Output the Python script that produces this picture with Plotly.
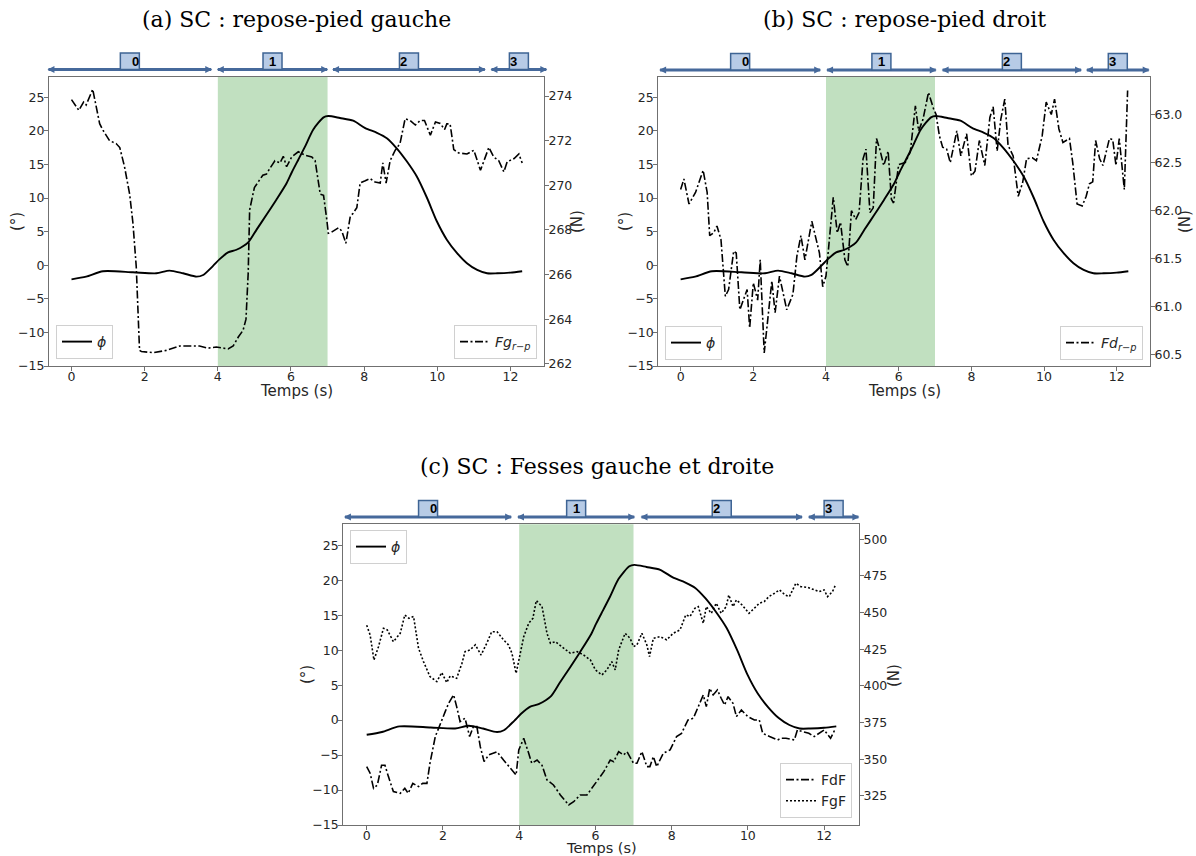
import plotly.graph_objects as go

# ---------------- data ----------------
phi_t = [0, 0.4, 0.86, 1.68, 2.32, 2.68, 3.05, 3.42, 3.6, 3.87, 4.05, 4.28, 4.51, 4.83, 5.06,
         5.33, 5.6, 5.88, 6.02, 6.2, 6.38, 6.61, 6.89, 7.02, 7.34, 7.7, 8.03, 8.35, 8.62, 8.89,
         9.16, 9.44, 9.72, 9.99, 10.26, 10.54, 10.81, 11.09, 11.36, 11.64, 12.0, 12.32]
phi = [-2.1, -1.7, -0.9, -1.05, -1.2, -0.8, -1.2, -1.7, -1.45, -0.1, 0.9, 1.9, 2.3, 3.4, 5.3,
       7.5, 9.75, 12.2, 13.8, 15.7, 17.6, 20.2, 22.0, 22.2, 21.9, 21.5, 20.4, 19.7, 18.9, 17.4,
       15.5, 13.2, 10.0, 6.5, 3.8, 1.8, 0.3, -0.7, -1.2, -1.2, -1.1, -0.9]

fg_t = [0, 0.2, 0.33, 0.4, 0.58, 0.77, 0.86, 1.04, 1.22, 1.32, 1.45, 1.59, 1.68, 1.77, 1.86,
        1.91, 2.23, 2.59, 2.96, 3.5, 3.73, 3.96, 4.28, 4.42, 4.56, 4.69, 4.77, 4.83, 4.87, 5.0,
        5.23, 5.33, 5.42, 5.56, 5.7, 5.79, 5.88, 6.02, 6.2, 6.38, 6.57, 6.66, 6.8, 6.89, 6.98,
        7.02, 7.11, 7.3, 7.39, 7.5, 7.62, 7.7, 7.8, 7.89, 8.03, 8.16, 8.3, 8.44, 8.51, 8.6,
        8.71, 8.85, 8.98, 9.12, 9.26, 9.4, 9.53, 9.65, 9.81, 9.95, 10.08, 10.2, 10.26, 10.35,
        10.45, 10.58, 10.81, 11.0, 11.18, 11.41, 11.54, 11.68, 11.82, 11.91, 12.1, 12.23, 12.32]
fg_rp = [273.84, 273.36, 273.73, 273.6, 274.3, 272.76, 272.47, 272.0, 271.87, 271.69,
         270.83, 269.6, 268.3, 266.35, 262.6, 262.55, 262.5, 262.6, 262.8, 262.8,
         262.7, 262.75, 262.67, 262.8, 263.2, 263.5, 264.0, 266.05, 268.9, 269.9,
         270.45, 270.5, 270.75, 271.1, 271.0, 271.3, 270.83, 271.27, 271.5, 271.35,
         271.27, 271.1, 269.6, 269.55, 268.45, 267.85, 267.9, 268.1, 267.95, 267.4,
         268.6, 268.75, 269.0, 270.1, 270.2, 270.3, 270.15, 270.1, 271.0, 270.1,
         271.1, 271.57, 271.87, 272.98, 272.9, 272.7, 272.9, 272.9, 272.24, 272.84,
         272.77, 272.5, 272.75, 272.75, 271.6, 271.45, 271.4, 271.57, 270.67, 271.7,
         271.27, 271.1, 270.6, 271.05, 271.2, 271.4, 271.0]

fd_t = [0, 0.09, 0.23, 0.41, 0.62, 0.73, 0.8, 0.91, 1.0, 1.11,
        1.23, 1.32, 1.46, 1.53, 1.63, 1.83, 1.9, 2.0, 2.12, 2.19,
        2.3, 2.51, 2.6, 2.72, 2.92, 3.09, 3.2, 3.31, 3.42, 3.61,
        3.82, 3.91, 4.0, 4.11, 4.2, 4.31, 4.4, 4.52, 4.6, 4.7,
        4.82, 4.91, 5.02, 5.1, 5.21, 5.3, 5.39, 5.48, 5.59, 5.71,
        5.8, 5.86, 6.0, 6.18, 6.32, 6.46, 6.55, 6.67, 6.82, 6.96,
        7.03, 7.12, 7.21, 7.32, 7.42, 7.6, 7.71, 7.87, 8.0, 8.1,
        8.22, 8.37, 8.44, 8.51, 8.6, 8.71, 8.81, 8.92, 9.01, 9.15,
        9.29, 9.41, 9.52, 9.68, 9.79, 9.95, 10.06, 10.2, 10.29, 10.41,
        10.52, 10.7, 10.79, 10.91, 11.05, 11.16, 11.25, 11.34, 11.42, 11.53,
        11.62, 11.8, 11.89, 11.98, 12.07, 12.15, 12.21, 12.3]
fd_rp = [62.22, 62.33, 62.07, 62.19, 62.42, 62.19, 61.74, 61.77, 61.84, 61.70,
         61.11, 61.18, 61.58, 61.56, 60.97, 61.18, 60.78, 61.25, 61.07, 61.49,
         60.52, 61.27, 60.94, 61.32, 60.97, 61.13, 61.53, 61.74, 61.49, 61.89,
         61.56, 61.21, 61.32, 61.77, 62.14, 61.77, 61.88, 61.49, 61.42, 62.0,
         61.91, 61.98, 62.54, 62.64, 61.98, 62.03, 62.75, 62.64, 62.47, 62.62,
         62.12, 62.08, 62.48, 62.5, 62.61, 63.09, 62.83, 62.95, 63.23, 63.06,
         63.0, 62.78, 62.66, 62.64, 62.5, 62.83, 62.57, 62.8, 62.36, 62.41,
         62.73, 62.47, 62.7, 62.97, 63.08, 62.62, 62.95, 63.16, 62.68, 62.57,
         62.15, 62.29, 62.54, 62.55, 62.52, 62.78, 63.13, 63.0, 63.16, 62.85,
         62.71, 62.75, 62.5, 62.07, 62.05, 62.15, 62.28, 62.3, 62.73, 62.54,
         62.47, 62.75, 62.74, 62.47, 62.75, 62.4, 62.22, 63.25]

fgf_t = [0, 0.09, 0.19, 0.31, 0.44, 0.54, 0.7, 0.88, 1.0, 1.11, 1.23, 1.36, 1.49, 1.66, 1.84,
         1.97, 2.1, 2.19, 2.36, 2.5, 2.58, 2.71, 2.85, 3.0, 3.15, 3.28, 3.42, 3.59, 3.72, 3.81,
         3.92, 4.03, 4.12, 4.25, 4.36, 4.45, 4.6, 4.73, 4.82, 4.95, 5.12, 5.34, 5.52, 5.69, 5.87,
         6.0, 6.17, 6.3, 6.43, 6.52, 6.61, 6.78, 6.91, 7.0, 7.09, 7.22, 7.35, 7.42, 7.52, 7.7,
         7.87, 8.04, 8.22, 8.37, 8.48, 8.61, 8.7, 8.83, 8.91, 9.04, 9.17, 9.3, 9.43, 9.5, 9.61,
         9.7, 9.85, 10.03, 10.17, 10.3, 10.43, 10.55, 10.7, 10.83, 10.98, 11.09, 11.26, 11.39,
         11.57, 11.7, 11.87, 12.0, 12.09, 12.22, 12.3]
fgf = [441.4, 434.8, 417.7, 426.8, 439.3, 438.2, 430.2, 435.9, 448.4, 446.1, 447.3, 425.7, 416.6,
       406.4, 402.95, 409.1, 402.3, 406.8, 405.2, 415.5, 423.4, 424.5, 428.0, 421.1, 429.1, 437.0,
       437.0, 431.4, 428.0, 422.3, 408.6, 422.3, 433.6, 442.7, 446.1, 458.2, 454.1, 435.9, 429.1,
       430.2, 426.8, 422.3, 423.4, 421.1, 417.7, 410.9, 407.5, 410.9, 416.6, 410.9, 424.5, 435.9,
       432.5, 426.8, 428.0, 435.9, 428.0, 420.0, 432.5, 433.6, 431.4, 435.9, 438.2, 448.4, 447.3,
       452.95, 454.1, 442.7, 454.1, 449.5, 456.4, 449.5, 454.1, 462.0, 454.1, 458.6, 455.2, 449.5,
       452.95, 456.4, 457.5, 460.9, 463.2, 465.5, 462.0, 460.9, 470.0, 467.7, 467.2, 465.9, 464.3,
       465.5, 460.9, 464.3, 468.9]

fdf_t = [0, 0.09, 0.18, 0.28, 0.39, 0.48, 0.57, 0.7, 0.88, 1.0, 1.09, 1.21, 1.36, 1.47, 1.58,
         1.66, 1.8, 1.93, 2.06, 2.15, 2.28, 2.36, 2.45, 2.58, 2.7, 2.8, 2.89, 2.98, 3.08, 3.2,
         3.42, 3.59, 3.77, 3.92, 3.99, 4.12, 4.25, 4.33, 4.47, 4.6, 4.73, 4.9, 5.08, 5.3, 5.43,
         5.6, 5.78, 6.0, 6.22, 6.39, 6.48, 6.61, 6.74, 6.83, 7.0, 7.09, 7.22, 7.35, 7.43, 7.52,
         7.61, 7.78, 7.96, 8.13, 8.26, 8.43, 8.57, 8.7, 8.83, 8.91, 9.0, 9.09, 9.2, 9.3, 9.39,
         9.48, 9.61, 9.7, 9.83, 10.0, 10.17, 10.3, 10.39, 10.57, 10.78, 10.87, 11.0, 11.22, 11.3,
         11.43, 11.6, 11.74, 11.87, 12.0, 12.17, 12.3]
fdf = [345.0, 340.5, 330.2, 332.5, 345.9, 345.9, 338.2, 328.0, 326.8, 330.2, 326.8, 333.6, 331.4,
       333.6, 333.6, 347.3, 365.5, 373.4, 382.5, 388.2, 393.9, 385.9, 375.7, 378.0, 365.5, 372.3,
       372.3, 358.6, 348.4, 352.95, 355.2, 349.5, 343.9, 339.3, 356.4, 364.3, 354.1, 347.3, 349.5,
       345.9, 335.9, 332.5, 325.7, 318.9, 321.1, 325.7, 325.7, 333.6, 341.6, 349.5, 348.4, 355.2,
       352.95, 355.2, 347.3, 347.3, 355.2, 345.0, 345.0, 351.8, 345.0, 354.1, 356.4, 365.5, 367.7,
       376.8, 378.0, 385.9, 393.9, 385.9, 398.4, 393.9, 397.3, 391.6, 387.0, 392.7, 388.2, 379.1,
       383.6, 379.1, 376.8, 376.8, 367.7, 365.5, 363.2, 364.3, 364.3, 363.2, 370.0, 368.9, 367.7,
       365.5, 367.7, 370.0, 364.3, 371.1]

x_ticks = [0, 2, 4, 6, 8, 10, 12]
phase_labels = ["0", "1", "2", "3"]
phase1_span = [4, 7]
phases_a = [(-0.63, 3.82), (4.0, 6.99), (7.15, 11.3), (11.48, 12.98)]
phases_b = [(-0.565, 3.84), (4.03, 7.02), (7.21, 11.02), (11.18, 12.88)]
phases_c = [(-0.57, 3.79), (3.97, 7.02), (7.21, 11.42), (11.6, 12.9)]

# ---------------- style ----------------
W, H = 1196, 856
X_RANGE = [-0.615, 12.915]
Y_LEFT = [-15, 28]
FONT = "DejaVu Sans"
TXT = "#262626"
SPINE = "#707070"
GREEN = "#c1e0c0"
ARROW = "#46699b"
BOX_FILL = "#b7cbe6"
BOX_LINE = "#3e6494"
DASHDOT = "8px,2.5px,2px,2.5px"
DOT = "2px,2px"

fig = go.Figure()

def add_line(x, y, xa, ya, name, dash, legend, width=1.6, shape="linear"):
    fig.add_trace(go.Scatter(x=x, y=y, xaxis=xa, yaxis=ya, mode="lines", name=name,
                             line=dict(color="black", width=width, dash=dash, shape=shape,
                                       smoothing=0.7 if shape == "spline" else None),
                             legend=legend, showlegend=True))

PHI = "<i>ϕ</i>"
# (a)
add_line(phi_t, phi, "x", "y", PHI, "solid", "legend", width=1.9, shape="spline")
add_line(fg_t, fg_rp, "x", "y2", "<i>Fg</i><sub><i>r−p</i></sub>", DASHDOT, "legend2")
# (b)
add_line(phi_t, phi, "x2", "y3", PHI, "solid", "legend3", width=1.9, shape="spline")
add_line(fd_t, fd_rp, "x2", "y4", "<i>Fd</i><sub><i>r−p</i></sub>", DASHDOT, "legend4")
# (c)
add_line(phi_t, phi, "x3", "y5", PHI, "solid", "legend5", width=1.9, shape="spline")
add_line(fdf_t, fdf, "x3", "y6", "FdF", DASHDOT, "legend6")
add_line(fgf_t, fgf, "x3", "y6", "FgF", DOT, "legend6")

axis_common = dict(showline=True, linecolor=SPINE, linewidth=1, ticks="outside", ticklen=4,
                   tickcolor=SPINE, showgrid=False, zeroline=False, automargin=False,
                   tickfont=dict(family=FONT, size=12.5, color=TXT))
title_font = dict(family=FONT, size=15, color=TXT)

def xaxis(domain, anchor):
    return dict(axis_common, domain=domain, anchor=anchor, range=X_RANGE, tickvals=x_ticks,
                mirror=True, ticklabelstandoff=-5)

def yleft(domain, anchor):
    return dict(axis_common, domain=domain, anchor=anchor, range=Y_LEFT, dtick=5,
                ticklabelstandoff=-3)

def yright(over, anchor, rng, dtick, fmt=None):
    d = dict(axis_common, overlaying=over, anchor=anchor, side="right", range=rng, dtick=dtick,
             ticklabelstandoff=-3)
    if fmt:
        d["tickformat"] = fmt
    return d

dom_top = [0.5724, 0.91]
dom_bot = [0.0362, 0.3875]
xa_dom = [0.04097, 0.4548]
xb_dom = [0.5504, 0.9615]
xc_dom = [0.2870, 0.7182]

leg_common = dict(bgcolor="rgba(255,255,255,0.85)", bordercolor="#d0d0d0", borderwidth=1,
                  font=dict(family=FONT, size=14, color=TXT), itemwidth=30,
                  tracegroupgap=0)

fig.update_layout(
    template="none",
    width=W, height=H, margin=dict(l=0, r=0, t=0, b=0, autoexpand=False),
    paper_bgcolor="white", plot_bgcolor="white",
    xaxis=xaxis(xa_dom, "y"), yaxis=yleft(dom_top, "x"),
    yaxis2=yright("y", "x", [261.9, 274.85], 2),
    xaxis2=xaxis(xb_dom, "y3"), yaxis3=yleft(dom_top, "x2"),
    yaxis4=yright("y3", "x2", [60.385, 63.39], 0.5, ".1f"),
    xaxis3=xaxis(xc_dom, "y5"), yaxis5=yleft(dom_bot, "x3"),
    yaxis6=yright("y5", "x3", [305.2, 510.2], 25),
    legend=dict(leg_common, x=56 / W, y=1 - 359 / H, xanchor="left", yanchor="bottom"),
    legend2=dict(leg_common, x=537 / W, y=1 - 359 / H, xanchor="right", yanchor="bottom"),
    legend3=dict(leg_common, x=665 / W, y=1 - 360 / H, xanchor="left", yanchor="bottom"),
    legend4=dict(leg_common, x=1143 / W, y=1 - 360 / H, xanchor="right", yanchor="bottom"),
    legend5=dict(leg_common, x=350 / W, y=1 - 530 / H, xanchor="left", yanchor="top"),
    legend6=dict(leg_common, x=852 / W, y=1 - 818 / H, xanchor="right", yanchor="bottom"),
    showlegend=True,
)

# green band (phase 1)
for xa, ya in [("x", "y"), ("x2", "y3"), ("x3", "y5")]:
    fig.add_shape(type="rect", xref=xa, yref=ya + " domain", x0=phase1_span[0], x1=phase1_span[1],
                  y0=0, y1=1, fillcolor=GREEN, line=dict(width=0), layer="below")

def frac(t):
    return (t - X_RANGE[0]) / (X_RANGE[1] - X_RANGE[0])

def phase_bar(xa, phases, ybar):
    xref = xa + " domain"
    for (s0, s1), lab in zip(phases, phase_labels):
        f0, f1 = frac(s0), frac(s1)
        fig.add_shape(type="line", xref=xref, yref="paper", x0=f0, x1=f1, y0=ybar, y1=ybar,
                      line=dict(color=ARROW, width=3))
        fig.add_shape(type="path", xref=xref, yref="paper", xsizemode="pixel", ysizemode="pixel",
                      xanchor=f0, yanchor=ybar, path="M -1,0 L 6,3.5 L 6,-3.5 Z",
                      fillcolor=ARROW, line=dict(width=0))
        fig.add_shape(type="path", xref=xref, yref="paper", xsizemode="pixel", ysizemode="pixel",
                      xanchor=f1, yanchor=ybar, path="M 1,0 L -6,3.5 L -6,-3.5 Z",
                      fillcolor=ARROW, line=dict(width=0))
        fc = (f0 + f1) / 2
        fig.add_shape(type="rect", xref=xref, yref="paper", xsizemode="pixel", ysizemode="pixel",
                      xanchor=fc, yanchor=ybar, x0=-9.5, x1=9.5, y0=0, y1=16.5,
                      fillcolor=BOX_FILL, line=dict(color=BOX_LINE, width=1.5))
        fig.add_annotation(xref=xref, yref="paper", x=fc, y=ybar, yanchor="middle", yshift=8.5,
                           text="<b>" + lab + "</b>", showarrow=False,
                           font=dict(family="Liberation Sans", size=13, color="black"))

phase_bar("x", phases_a, 1 - 69.5 / H)
phase_bar("x2", phases_b, 1 - 70 / H)
phase_bar("x3", phases_c, 1 - 517 / H)

# axis titles (placed as text next to each axis)
def label(txt, xp, yp, angle=0, size=15):
    fig.add_annotation(xref="paper", yref="paper", x=xp / W, y=1 - yp / H, text=txt,
                       showarrow=False, xanchor="center", yanchor="middle", textangle=angle,
                       font=dict(title_font, size=size))

label("Temps (s)", 296.5, 391)
label("Temps (s)", 904, 391)
label("Temps (s)", 601, 847.5, size=14.5)
for xp, yp in [(17, 222), (625, 222), (307, 675)]:
    label("(°)", xp, yp, -90)
for xp, yp in [(577, 222), (1185, 222), (894, 675)]:
    label("(N)", xp, yp, -90)

# titles
title_font_serif = dict(family="DejaVu Serif", size=22, color="black")
for txt, xp, yp in [("(a) SC : repose-pied gauche", 296.5, 20),
                    ("(b) SC : repose-pied droit", 904, 20),
                    ("(c) SC : Fesses gauche et droite", 597, 466)]:
    fig.add_annotation(xref="paper", yref="paper", x=xp / W, y=1 - yp / H, text=txt,
                       showarrow=False, xanchor="center", yanchor="middle", font=title_font_serif)

fig.write_html("out.html", config={"displayModeBar": False},
               post_script="document.body.style.margin='0';document.body.style.overflow='hidden';")
